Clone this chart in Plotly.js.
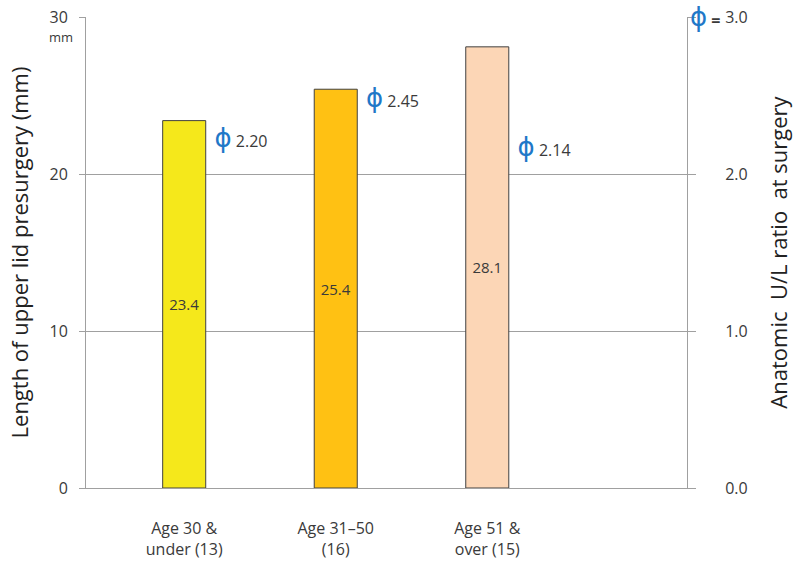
<!DOCTYPE html>
<html>
<head>
<meta charset="utf-8">
<script src="https://cdn.plot.ly/plotly-3.0.1.min.js"></script>
<style>html,body{margin:0;padding:0;background:#fff;}#chart{width:800px;height:563px;}</style>
</head>
<body>
<div id="chart"></div>
<script>
// ---- data ----
var categories = ['Age 30 &<br>under (13)', 'Age 31\u201350<br>(16)', 'Age 51 &<br>over (15)'];
var lidLength = [23.4, 25.4, 28.1];          // mm, left axis
var ulRatio = [2.20, 2.45, 2.14];            // phi, right axis
var leftTicks = [0, 10, 20, 30];
var rightTicks = [0, 1, 2, 3];
var rightTickLabels = ['0.0', '1.0', '2.0', '3.0'];

// ---- styles ----
var barColors = ['#F5E81B', '#FFC113', '#FCD6B6'];
var phiColor = '#1F78C8';
var textColor = '#3a3a3a';
var axisColor = '#a0a0a0';
var baseFont = 'Open Sans, Noto Sans, sans-serif';

var xIdx = categories.map(function (_, i) { return i; });
var phiOffset = 0.2;

function phiSpan() {
  return '<span style="font-family:DejaVu Sans;font-size:26px;fill:' + phiColor + '">\u03D5</span>';
}
function phiLabel(v) {
  return phiSpan() + ' ' + v.toFixed(2);
}

var barTrace = {
  type: 'bar',
  x: xIdx,
  y: lidLength,
  width: 0.284,
  marker: { color: barColors, line: { color: '#404040', width: 1 } },
  text: lidLength.map(function (v) { return v.toFixed(1); }),
  textposition: 'inside',
  insidetextanchor: 'middle',
  textangle: 0,
  textfont: { family: baseFont, size: 15, color: textColor },
  hoverinfo: 'skip',
  yaxis: 'y'
};

var phiTrace = {
  type: 'scatter',
  mode: 'text',
  x: xIdx.map(function (i) { return i + phiOffset; }),
  y: ulRatio,
  text: ulRatio.map(phiLabel),
  textposition: 'middle right',
  textfont: { family: baseFont, size: 16, color: textColor },
  hoverinfo: 'skip',
  yaxis: 'y2',
  cliponaxis: false
};

var layout = {
  width: 800,
  height: 563,
  margin: { l: 86, r: 113, t: 17, b: 74.5 },
  paper_bgcolor: '#fff',
  plot_bgcolor: '#fff',
  showlegend: false,
  font: { family: baseFont, size: 16, color: textColor },
  xaxis: {
    range: [-0.648, 3.318],
    tickvals: xIdx,
    ticktext: categories,
    ticks: '',
    showgrid: false,
    zeroline: false,
    showline: true,
    linecolor: axisColor,
    linewidth: 1,
    ticklabelstandoff: 26,
    tickfont: { family: baseFont, size: 16, color: textColor }
  },
  yaxis: {
    range: [0, 30],
    tickvals: leftTicks,
    ticks: 'outside',
    ticklen: 6,
    tickcolor: axisColor,
    showline: true,
    linecolor: axisColor,
    linewidth: 1,
    showgrid: true,
    gridcolor: axisColor,
    gridwidth: 1,
    zeroline: false,
    ticklabelstandoff: 8,
    tickfont: { family: baseFont, size: 16, color: textColor },
    title: { text: 'Length of upper lid presurgery (mm)', font: { family: baseFont, size: 22, color: '#222' }, standoff: 14 }
  },
  yaxis2: {
    range: [0, 3],
    overlaying: 'y',
    side: 'right',
    tickvals: rightTicks,
    ticktext: rightTickLabels,
    ticks: 'outside',
    ticklen: 8,
    tickcolor: axisColor,
    showline: true,
    linecolor: axisColor,
    linewidth: 1,
    showgrid: false,
    zeroline: false,
    ticklabelstandoff: 26,
    tickfont: { family: baseFont, size: 16, color: textColor },
    title: { text: 'Anatomic  U/L ratio  at surgery', font: { family: baseFont, size: 22, color: '#222' }, standoff: 24 }
  },
  annotations: [
    {
      xref: 'paper', yref: 'paper', x: -0.042, y: 0.958,
      xanchor: 'center', yanchor: 'middle', showarrow: false,
      text: 'mm', font: { family: baseFont, size: 13, color: textColor }
    },
    {
      xref: 'paper', yref: 'paper', x: 1.058, y: 1.0,
      xanchor: 'right', yanchor: 'middle', showarrow: false,
      text: phiSpan() + ' <b>=</b>',
      font: { family: baseFont, size: 16, color: textColor }
    }
  ]
};

Plotly.newPlot('chart', [barTrace, phiTrace], layout, { displayModeBar: false, staticPlot: true });
</script>
</body>
</html>
